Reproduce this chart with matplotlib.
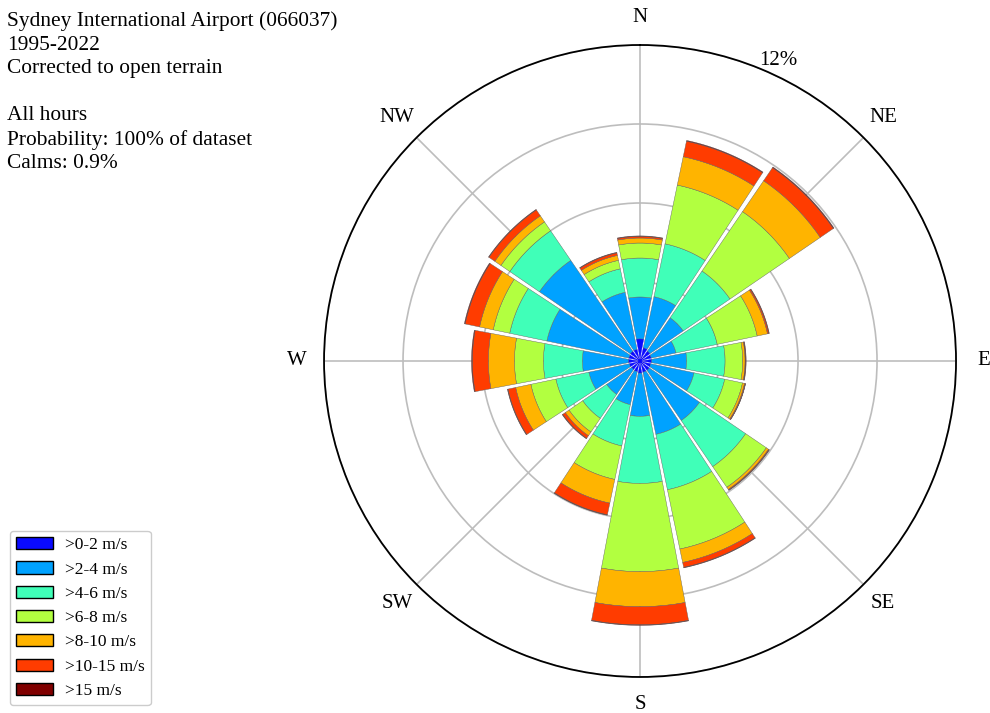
import numpy as np
import matplotlib
matplotlib.use('Agg')
import matplotlib.pyplot as plt
from matplotlib.patches import Patch

''' wind rose for sydney airport, all hours, 16 sectors '''

directions = ['N', 'NNE', 'NE', 'ENE', 'E', 'ESE', 'SE', 'SSE',
              'S', 'SSW', 'SW', 'WSW', 'W', 'WNW', 'NW', 'NNW']
speed_labels = ['>0-2 m/s', '>2-4 m/s', '>4-6 m/s', '>6-8 m/s',
                '>8-10 m/s', '>10-15 m/s', '>15 m/s']
colours = ['#0a0aff', '#00a2ff', '#40ffb8', '#b2ff40',
           '#ffb400', '#ff3c00', '#800000']

# frequency (%) of each speed class per direction, N clockwise
f_0_2 = [0.84, 0.52, 0.47, 0.44, 0.44, 0.42, 0.44, 0.44,
         0.46, 0.42, 0.40, 0.42, 0.44, 0.44, 0.46, 0.46]
f_2_4 = [1.59, 1.98, 1.53, 0.96, 1.33, 1.68, 2.31, 2.41,
         1.64, 1.28, 1.15, 1.57, 1.75, 3.18, 4.18, 2.21]
f_4_6 = [1.48, 2.05, 2.15, 1.60, 1.46, 1.19, 2.12, 2.15,
         2.55, 1.60, 1.10, 1.28, 1.48, 1.44, 1.36, 0.91]
f_6_8 = [0.57, 2.28, 2.73, 1.55, 0.67, 0.69, 0.95, 2.30,
         3.35, 1.30, 0.63, 0.97, 1.10, 0.64, 0.41, 0.33]
f_8_10 = [0.19, 1.10, 1.42, 0.40, 0.09, 0.08, 0.10, 0.52,
          1.33, 0.92, 0.17, 0.59, 0.99, 0.53, 0.28, 0.19]
f_10_15 = [0.06, 0.60, 0.60, 0.05, 0.02, 0.03, 0.03, 0.19,
           0.69, 0.45, 0.12, 0.30, 0.61, 0.56, 0.27, 0.10]
f_15 = [0.02, 0.03, 0.03, 0.02, 0.02, 0.01, 0.01, 0.02,
        0.02, 0.02, 0.02, 0.02, 0.03, 0.03, 0.02, 0.02]

title_text = ('Sydney International Airport (066037)\n1995-2022\n'
              'Corrected to open terrain\n\nAll hours\n'
              'Probability: 100% of dataset\nCalms: 0.9%')
compass = ['N', 'NE', 'E', 'SE', 'S', 'SW', 'W', 'NW']
r_max = 12

serif = 'Liberation Serif'
px_per_unit = 316 / r_max
gap_lin = 1.0 / px_per_unit       # constant part of the white gap
gap_ang = np.deg2rad(1.1)         # angular part of the gap


def half_width(r):
	r = np.asarray(r, dtype=float)
	s = np.where(r > 0, (gap_lin / 2) / np.maximum(r, 1e-9), 1.0)
	h = np.pi / 16 - gap_ang / 2 - np.arcsin(np.clip(s, 0, 1))
	return np.maximum(h, 0)


def segment(ax, tc, r0, r1, colour, edge):
	rr = np.linspace(r0, r1, 25)
	h_out = half_width(r1)
	h_in = half_width(r0)
	th = np.concatenate([
		tc + half_width(rr),
		np.linspace(tc + h_out, tc - h_out, 40),
		tc - half_width(rr[::-1]),
		np.linspace(tc - h_in, tc + h_in, 10)])
	rs = np.concatenate([rr, np.full(40, r1), rr[::-1], np.full(10, r0)])
	ax.fill(th, rs, facecolor=colour, edgecolor=edge, linewidth=0.3, zorder=3)


def main():
	fig = plt.figure(figsize=(9.9, 7.13), dpi=100)
	ax = fig.add_axes([0.3273, 0.0505, 0.6384, 0.8864], projection='polar')
	ax.set_theta_zero_location('N')
	ax.set_theta_direction(-1)

	classes = [f_0_2, f_2_4, f_4_6, f_6_8, f_8_10, f_10_15, f_15]
	freq = np.array(classes)
	cum = np.cumsum(freq, axis=0)
	thetas = np.deg2rad(np.arange(len(directions)) * 22.5)
	for j, tc in enumerate(thetas):
		r0 = 0.0
		for k in range(len(classes)):
			r1 = cum[k, j]
			edge = colours[0] if k == 0 else '#606060'
			segment(ax, tc, r0, r1, colours[k], edge)
			r0 = r1

	ax.set_ylim(0, r_max)
	ax.set_yticks([3, 6, 9, 12])
	ax.set_yticklabels([])
	ax.set_xticks(np.deg2rad(np.arange(0, 360, 45)))
	ax.set_xticklabels([])
	ax.grid(True, color='#bdbdbd', linewidth=1.2)
	ax.set_axisbelow(True)
	ax.spines['polar'].set_color('black')
	ax.spines['polar'].set_linewidth(1.3)

	for i, lab in enumerate(compass):
		ax.text(np.deg2rad(i * 45), 13.05, lab, ha='center', va='center',
			fontsize=15, family=serif, clip_on=False)
	ax.text(np.deg2rad(24.7), 12.55, '12%', ha='center', va='center',
		fontsize=15, family=serif, clip_on=False)

	fig.text(0.007, 0.984, title_text, ha='left', va='top', fontsize=15.4,
		family=serif, linespacing=1.32)

	handles = [Patch(facecolor=c, edgecolor='black', linewidth=1.0) for c in colours]
	fig.legend(handles, speed_labels, loc='lower left', bbox_to_anchor=(0.0101, 0.011),
		prop={'family': serif, 'size': 12.5}, handlelength=2.1, handleheight=0.7,
		labelspacing=0.47, handletextpad=0.7, borderpad=0.35, borderaxespad=0,
		framealpha=1, edgecolor='#cccccc', fancybox=True)

	fig.savefig('out.png', dpi=100)


if __name__ == "__main__":
	main()
